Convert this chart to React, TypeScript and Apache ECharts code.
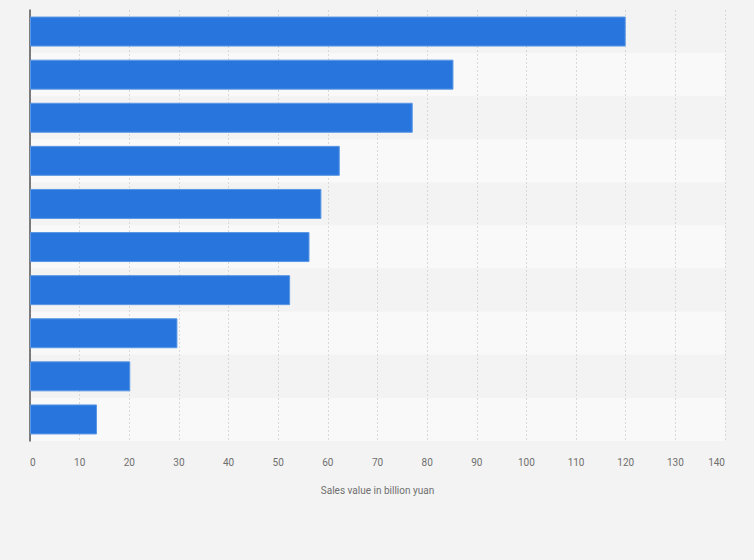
import { useEffect, useRef } from "react";
import * as echarts from "echarts";

const categories = ["1", "2", "3", "4", "5", "6", "7", "8", "9", "10"];
const salesValues = [120.0, 85.3, 77.1, 62.4, 58.7, 56.3, 52.4, 29.7, 20.2, 13.5];
const xTicks = { min: 0, max: 140, interval: 10 };

export default function App() {
  const containerRef = useRef<HTMLDivElement>(null);

  useEffect(() => {
    document.body.style.margin = "0";
    if (!containerRef.current) return;
    const chart = echarts.init(containerRef.current, null, { renderer: "svg" });

    chart.setOption({
      backgroundColor: "#f3f3f3",
      animation: false,
      grid: { top: 10, bottom: 119, left: 30, right: 29, containLabel: false },
      xAxis: {
        type: "value",
        min: xTicks.min,
        max: xTicks.max,
        interval: xTicks.interval,
        name: "Sales value in billion yuan",
        nameLocation: "middle",
        nameGap: 44,
        nameTextStyle: { color: "#6f6f6f", fontSize: 10, fontFamily: "Roboto" },
        axisLine: { show: false },
        axisTick: { show: false },
        axisLabel: {
          color: "#6f6f6f",
          fontSize: 10,
          fontFamily: "Roboto",
          margin: 16,
          alignMinLabel: "left",
          alignMaxLabel: "right",
        },
        splitLine: { lineStyle: { color: "#d9d9d9", type: [2, 2], width: 1 } },
      },
      yAxis: {
        type: "category",
        data: categories,
        inverse: true,
        axisLine: { show: true, lineStyle: { color: "#555", width: 1.5 } },
        axisTick: { show: false },
        axisLabel: { show: false },
        splitArea: { show: true, areaStyle: { color: ["#f3f3f3", "#f9f9f9"] } },
      },
      series: [
        {
          type: "bar",
          data: salesValues,
          barWidth: 30,
          itemStyle: { color: "#2876dd", borderColor: "#5a97e4", borderWidth: 1 },
        },
      ],
    });

    return () => chart.dispose();
  }, []);

  return <div ref={containerRef} style={{ width: 754, height: 560 }} />;
}
